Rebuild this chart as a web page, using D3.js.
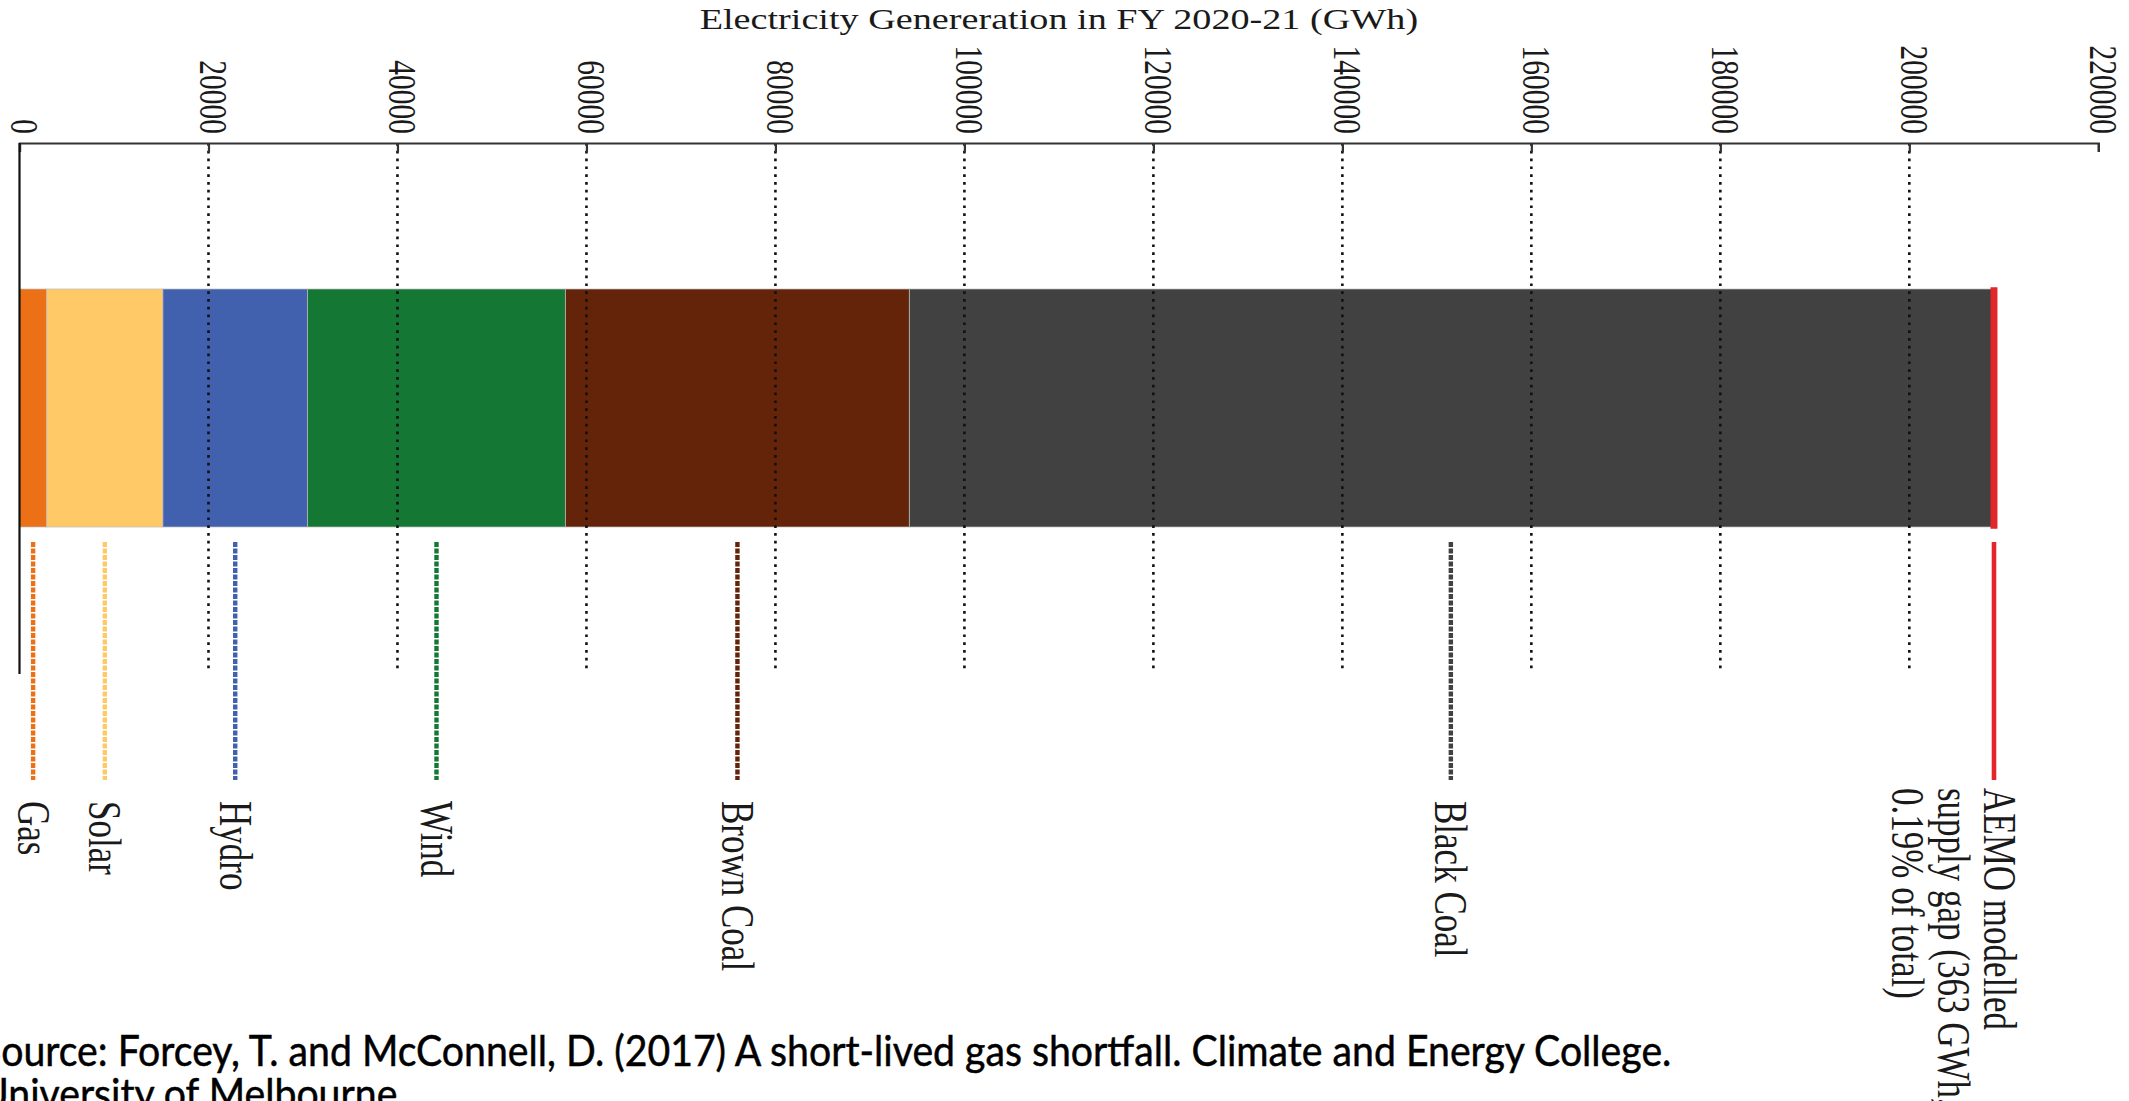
<!DOCTYPE html>
<html>
<head>
<meta charset="utf-8">
<script src="https://cdn.jsdelivr.net/npm/d3@7"></script>
<style>
  html, body { margin: 0; padding: 0; background: #ffffff; overflow: hidden; }
  svg { display: block; }
</style>
</head>
<body>
<svg id="chart" width="2129" height="1101"></svg>
<script>
// ---------------- DATA ----------------
const categories = ["Gas", "Solar", "Hydro", "Wind", "Brown Coal", "Black Coal", "AEMO gap"];
const values = [2880, 12300, 15300, 27300, 36400, 114600, 363]; // GWh
const colors = ["#ec7116", "#fec966", "#4160ae", "#147834", "#632409", "#414141", "#e2262b"];
const labelLines = [
  ["Gas"], ["Solar"], ["Hydro"], ["Wind"], ["Brown Coal"], ["Black Coal"],
  ["AEMO modelled", "supply gap (363 GWh,", "0.19% of total)"]
];
const tickValues = [0, 20000, 40000, 60000, 80000, 100000, 120000, 140000, 160000, 180000, 200000, 220000];
const titleText = "Electricity Genereration in FY 2020-21 (GWh)";
const sourceLines = [
  "Source: Forcey, T. and McConnell, D. (2017) A short-lived gas shortfall. Climate and Energy College.",
  "University of Melbourne"
];

// ---------------- LAYOUT ----------------
const svg = d3.select("#chart");
const serif = "'Liberation Serif', 'Times New Roman', serif";
const stretch = 1.34; // the chart's text is drawn horizontally stretched
const axisY = 143, barTop = 289, barBottom = 527, gridBottom = 669, yAxisBottom = 674;
const annTop = 542, annBottom = 780;
const x = d3.scaleLinear().domain([0, 220000]).range([19.5, 2098.3]);

// stacked segments
const ends = Array.from(d3.cumsum(values));
const segs = values.map((v, i) => ({
  name: categories[i], value: v, color: colors[i], lines: labelLines[i],
  x0: i === 0 ? 0 : ends[i - 1], x1: ends[i], last: i === values.length - 1
}));

// bars
svg.append("g").selectAll("rect").data(segs).join("rect")
  .attr("x", d => x(d.x0))
  .attr("y", barTop)
  .attr("width", d => x(d.x1) - x(d.x0))
  .attr("height", barBottom - barTop)
  .attr("fill", d => d.color)
  .attr("stroke", d => d.last ? d.color : "#bdbdbd")
  .attr("stroke-width", d => d.last ? 3.5 : 1)
  .attr("stroke-opacity", d => d.last ? 1 : 0.7);

// gridlines (dotted)
svg.append("g").selectAll("line").data(tickValues.slice(1, -1)).join("line")
  .attr("x1", d => x(d)).attr("x2", d => x(d))
  .attr("y1", axisY).attr("y2", gridBottom)
  .attr("stroke", "#111").attr("stroke-width", 2.6)
  .attr("stroke-dasharray", "2.7,5.1");

// top axis
const axis = d3.axisTop(x).tickValues(tickValues).tickSize(-9).tickSizeOuter(-9).tickFormat("");
const gAxis = svg.append("g").attr("transform", `translate(0,${axisY})`).call(axis);
gAxis.select(".domain").attr("stroke", "#333").attr("stroke-width", 2.2);
gAxis.selectAll(".tick line").attr("stroke", "#333").attr("stroke-width", 2.2);

// tick labels, rotated
svg.append("g").selectAll("text").data(tickValues).join("text")
  .attr("transform", d => `translate(${x(d)},134) scale(${stretch},1) rotate(90)`)
  .attr("text-anchor", "end")
  .attr("dy", "0.22em")
  .attr("font-family", serif)
  .attr("font-size", 29.5)
  .attr("fill", "#1a1a1a")
  .text(d => d);

// left vertical axis line
svg.append("line")
  .attr("x1", x(0)).attr("x2", x(0))
  .attr("y1", axisY).attr("y2", yAxisBottom)
  .attr("stroke", "#111").attr("stroke-width", 2.2);

// title
svg.append("text")
  .attr("transform", `translate(${(x(0) + x(220000)) / 2},29) scale(${stretch},1)`)
  .attr("text-anchor", "middle")
  .attr("font-family", serif)
  .attr("font-size", 28.5)
  .attr("fill", "#1a1a1a")
  .text(titleText);

// annotation lines
svg.append("g").selectAll("line").data(segs).join("line")
  .attr("x1", d => x((d.x0 + d.x1) / 2)).attr("x2", d => x((d.x0 + d.x1) / 2))
  .attr("y1", annTop).attr("y2", annBottom)
  .attr("stroke", d => d.color)
  .attr("stroke-width", d => d.last ? 4.6 : 4.4)
  .attr("stroke-dasharray", d => d.last ? null : "5,1.5");

// category labels (rotated)
const lab = svg.append("g").selectAll("text").data(segs).join("text")
  .attr("transform", d => `translate(${x((d.x0 + d.x1) / 2)},${d.last ? 788 : 801}) scale(${stretch},1) rotate(90)`)
  .attr("font-family", serif)
  .attr("font-size", 35)
  .attr("fill", "#1a1a1a");
lab.each(function(d) {
  const t = d3.select(this);
  d.lines.forEach((ln, j) => {
    t.append("tspan").attr("x", 0)
      .attr("dy", j === 0 ? (d.last ? "0.22em" : "0.33em") : "0.98em")
      .text(ln);
  });
});

// source note
const gSrc = svg.append("g");
const srcFont = "Lato, 'Open Sans', sans-serif";
const s1 = gSrc.append("text").attr("x", 0).attr("y", 1066)
  .attr("font-family", srcFont).attr("font-size", 43).attr("fill", "#000")
  .attr("stroke", "#000").attr("stroke-width", 0.5)
  .text(sourceLines[0]);
gSrc.append("text").attr("x", 0).attr("y", 1109)
  .attr("font-family", srcFont).attr("font-size", 43).attr("fill", "#000")
  .attr("stroke", "#000").attr("stroke-width", 0.5)
  .text(sourceLines[1]);
const natural = s1.node().getComputedTextLength();
const sx = (1672 + 20) / natural;
gSrc.attr("transform", `translate(-20,0) scale(${sx},1)`);
</script>
</body>
</html>
